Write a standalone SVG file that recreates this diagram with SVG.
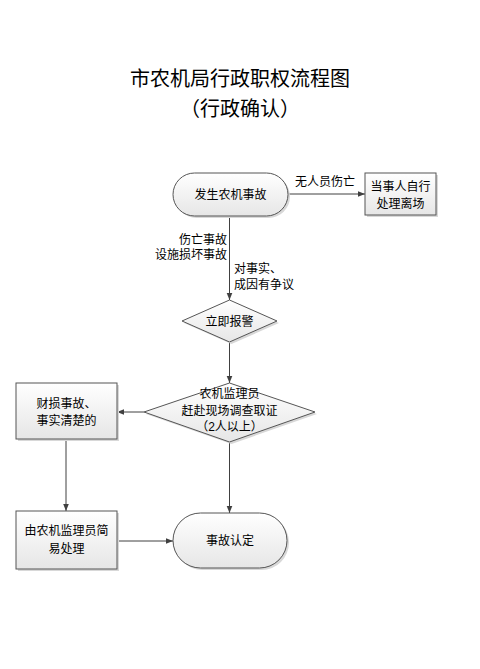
<svg xmlns="http://www.w3.org/2000/svg" width="480" height="669" viewBox="0 0 480 669">
<defs>
<linearGradient id="g" x1="0" y1="0" x2="0" y2="1">
<stop offset="0" stop-color="#ffffff"/>
<stop offset="1" stop-color="#e6e6e6"/>
</linearGradient>
<marker id="arr" viewBox="0 0 10 10" refX="10" refY="5" markerWidth="7" markerHeight="7" markerUnits="userSpaceOnUse" orient="auto">
<path d="M0,1 L10,5 L0,9 Z" fill="#404040"/>
</marker>
</defs>
<style>
text{font-family:"Liberation Sans","Noto Sans CJK SC",sans-serif;fill:#000;}
.t{font-size:20px;text-anchor:middle;}
.n{font-size:12px;text-anchor:middle;}
.l{font-size:12px;}
.s{fill:url(#g);stroke:#555;stroke-width:1;}
.sh{fill:#d8d8d8;stroke:none;}
.c{fill:none;stroke:#404040;stroke-width:1;marker-end:url(#arr);}
</style>
<rect width="480" height="669" fill="#fff"/>
<text class="t" x="240" y="86">市农机局行政职权流程图</text>
<text class="t" x="240" y="116">（行政确认）</text>

<g id="connectors">
<line class="c" x1="288" y1="194" x2="365" y2="194"/>
<line class="c" x1="229.5" y1="216" x2="229.5" y2="300"/>
<line class="c" x1="229.5" y1="342" x2="229.5" y2="383"/>
<line class="c" x1="144" y1="412" x2="117" y2="412"/>
<line class="c" x1="66" y1="439" x2="66" y2="511"/>
<line class="c" x1="229.5" y1="442" x2="229.5" y2="513"/>
<line class="c" x1="117" y1="541" x2="173" y2="541"/>
<text class="l" x="295" y="186">无人员伤亡</text>
<text class="l" x="227" y="244" text-anchor="end">伤亡事故</text>
<text class="l" x="227" y="259" text-anchor="end">设施损坏事故</text>
<text class="l" x="234" y="273">对事实、</text>
<text class="l" x="234" y="289">成因有争议</text>
</g>

<g id="start">
<rect class="sh" x="175" y="175" width="115" height="43" rx="21.5"/>
<rect class="s" x="173" y="173" width="115" height="43" rx="21.5"/>
<text class="n" x="230.5" y="199">发生农机事故</text>
</g>

<g id="leave">
<rect class="sh" x="367" y="175" width="71" height="42"/>
<rect class="s" x="365" y="173" width="71" height="42"/>
<text class="n" x="400.5" y="191">当事人自行</text>
<text class="n" x="400.5" y="208">处理离场</text>
</g>

<g id="report">
<polygon class="sh" points="231.5,302 279,323 231.5,344 184,323"/>
<polygon class="s" points="229.5,300 277,321 229.5,342 182,321"/>
<text class="n" x="229.5" y="326">立即报警</text>
</g>

<g id="investigate">
<polygon class="sh" points="231.5,385 317,414 231.5,444 146,414"/>
<polygon class="s" points="229.5,383 315,412 229.5,442 144,412"/>
<text class="n" x="229.5" y="398">农机监理员</text>
<text class="n" x="229.5" y="415">赶赴现场调查取证</text>
<text class="n" x="229.5" y="431">（2人以上）</text>
</g>

<g id="property">
<rect class="sh" x="18" y="385" width="101" height="56"/>
<rect class="s" x="16" y="383" width="101" height="56"/>
<text class="n" x="66.5" y="408">财损事故、</text>
<text class="n" x="66.5" y="425">事实清楚的</text>
</g>

<g id="simple">
<rect class="sh" x="18" y="513" width="101" height="58"/>
<rect class="s" x="16" y="511" width="101" height="58"/>
<text class="n" x="66.5" y="535">由农机监理员简</text>
<text class="n" x="66.5" y="553">易处理</text>
</g>

<g id="end">
<rect class="sh" x="175" y="515" width="114" height="55" rx="27.5"/>
<rect class="s" x="173" y="513" width="114" height="55" rx="27.5"/>
<text class="n" x="230" y="545">事故认定</text>
</g>
</svg>
